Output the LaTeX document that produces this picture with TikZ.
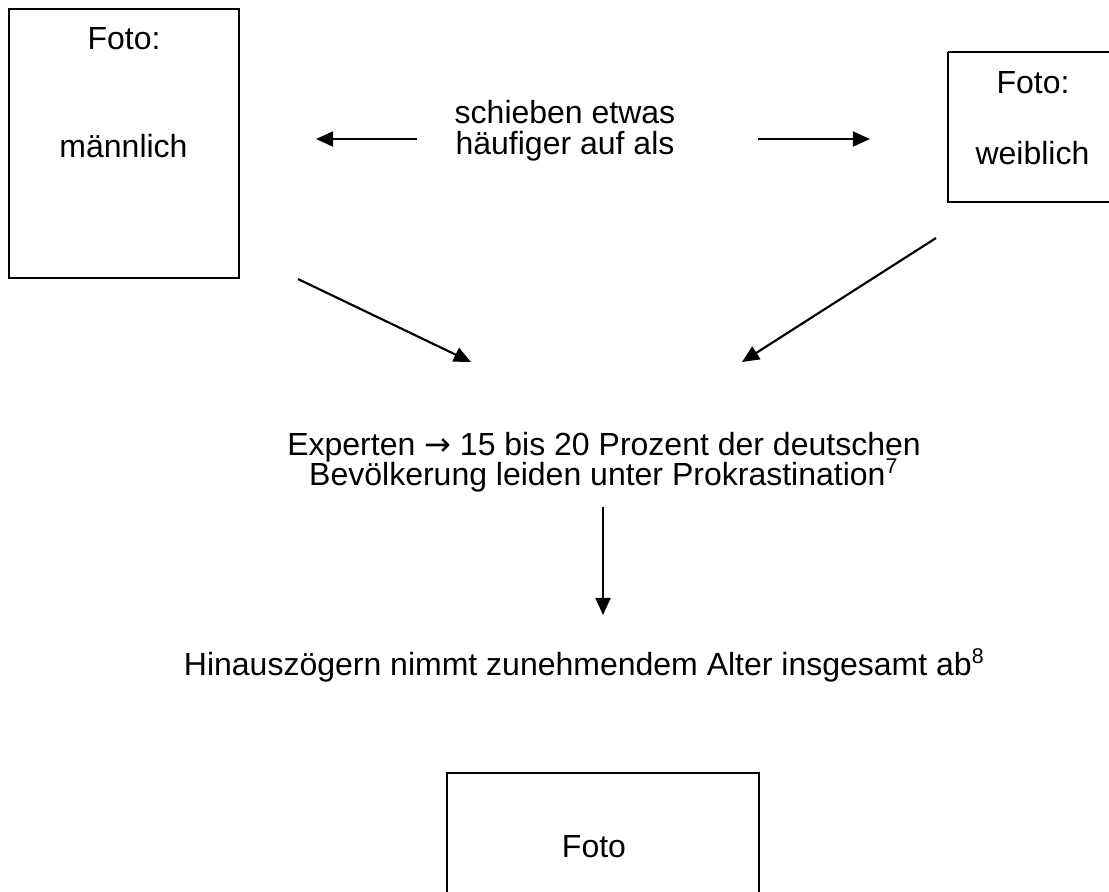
\documentclass[tikz,border=0pt]{standalone}
\usepackage{fontspec}
\setmainfont{Liberation Sans}
\newfontfamily\symfont{DejaVu Sans}
\usetikzlibrary{arrows.meta}
\newcommand\tightlines{\lineskiplimit=-20pt\relax}
\begin{document}
\begin{tikzpicture}[x=0.375pt,y=-0.375pt,
  lbl/.style={inner sep=0pt,anchor=base,font=\fontsize{12}{14}\selectfont},
  arr/.style={line width=0.8pt,-{Triangle[length=6.4pt,width=5.6pt]}}]
\useasboundingbox (0,0) rectangle (1109,891);
\clip (0,0) rectangle (1109,891);
% boxes
\draw[line width=0.75pt] (9,9) rectangle (239,278);
\node[inner sep=0pt] (mbox) at (124,143.5) {};
\draw[line width=0.75pt] (948,52) -- (1115,52) (948,52) -- (948,202) -- (1115,202);
\node[inner sep=0pt] (wbox) at (1028,127) {};
\draw[line width=0.75pt] (447,900) -- (447,773) -- (759,773) -- (759,900);
\node[inner sep=0pt] (fbox) at (603,830) {};
% texts
\node[lbl] (mfoto) at (124,49) {Foto:};
\node[lbl] (mname) at (123.5,157) {männlich};
\node[lbl] (wfoto) at (1033,93) {Foto:};
\node[lbl] (wname) at (1032.5,164) {weiblich};
\node[lbl,align=center,font=\fontsize{12}{11.6}\selectfont\tightlines] (mid) at (565,154) {schieben etwas\\häufiger auf als};
\node[lbl,align=center,font=\fontsize{12}{11.25}\selectfont\tightlines] (exp) at (604,485) {Experten {\symfont →} 15 bis 20 Prozent der deutschen\\Bevölkerung leiden unter Prokrastination\textsuperscript{7}};
\node[lbl] (hin) at (584.5,675) {Hinauszögern nimmt zunehmendem Alter insgesamt ab\textsuperscript{8}};
\node[lbl] (bfoto) at (594,857) {Foto};
% arrow endpoints
\coordinate (la1) at (417,139);
\coordinate (la2) at (316,139);
\coordinate (ra1) at (758,139);
\coordinate (ra2) at (870,139);
\coordinate (d1a) at (298,279);
\coordinate (d1b) at (471,362);
\coordinate (d2a) at (936,238);
\coordinate (d2b) at (742,362);
\coordinate (va) at (603,507);
\coordinate (vb) at (603,615);
\draw[arr] (la1) -- (la2);
\draw[arr] (ra1) -- (ra2);
\draw[arr] (d1a) -- (d1b);
\draw[arr] (d2a) -- (d2b);
\draw[arr] (va) -- (vb);
\end{tikzpicture}
\end{document}
